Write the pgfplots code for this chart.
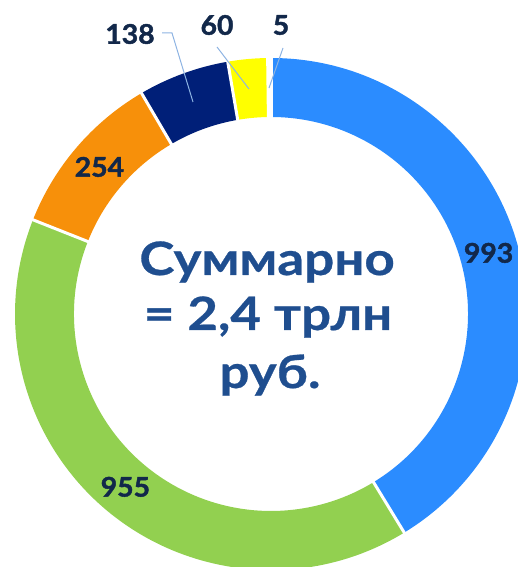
\documentclass[border=0pt]{standalone}
\usepackage{fontspec}
\setmainfont{Lato}
\newfontfamily\ctrfont[FakeStretch=1.15,FakeBold=0.6]{Lato Bold}
\newfontfamily\lblfont[FakeStretch=1.05,FakeBold=1.6]{Lato Bold}
\usepackage{pgfplots}
\usepackage{pgfplotstable}
\pgfplotsset{compat=1.18}
\definecolor{c0}{HTML}{2B8CFF}
\definecolor{c1}{HTML}{92D050}
\definecolor{c2}{HTML}{F7900A}
\definecolor{c3}{HTML}{001F78}
\definecolor{c4}{HTML}{FFFF00}
\definecolor{c5}{HTML}{FFFFFF}
\definecolor{lbl}{HTML}{12284A}
\definecolor{ctr}{HTML}{1F4E8F}
\definecolor{lead}{HTML}{8DB3E2}
\pgfplotstableread{
name value
A 993
B 955
C 254
D 138
E 60
F 5
}\data
\newcommand\aS[1]{\csname aS#1\endcsname}
\newcommand\aE[1]{\csname aE#1\endcsname}
\newcommand\aM[1]{\csname aM#1\endcsname}
\begin{document}
\begin{tikzpicture}
\gdef\total{0}
\pgfplotsforeachungrouped \i in {0,...,5}{%
  \pgfplotstablegetelem{\i}{value}\of\data
  \pgfmathsetmacro\tmp{\total+\pgfplotsretval}%
  \xdef\total{\tmp}%
}
\gdef\cum{0}
\pgfplotsforeachungrouped \i in {0,...,5}{%
  \pgfplotstablegetelem{\i}{value}\of\data
  \pgfmathsetmacro\s{90-360*(\cum/\total)}%
  \pgfmathsetmacro\m{90-360*((\cum+0.5*\pgfplotsretval)/\total)}%
  \pgfmathsetmacro\tmp{\cum+\pgfplotsretval}%
  \xdef\cum{\tmp}%
  \pgfmathsetmacro\e{90-360*(\cum/\total)}%
  \expandafter\xdef\csname aS\i\endcsname{\s}%
  \expandafter\xdef\csname aE\i\endcsname{\e}%
  \expandafter\xdef\csname aM\i\endcsname{\m}%
}
\begin{axis}[
  width=518pt, height=567pt, scale only axis,
  xmin=0, xmax=518, ymin=0, ymax=567,
  hide axis, clip=true,
]
\pgfplotsinvokeforeach{0,...,5}{
  \fill[c#1] (axis cs:{271+256*cos(\aS{#1})},{253+256*sin(\aS{#1})})
    arc[start angle=\aS{#1}, end angle=\aE{#1}, radius=256pt]
    -- (axis cs:{271+197*cos(\aE{#1})},{253+197*sin(\aE{#1})})
    arc[start angle=\aE{#1}, end angle=\aS{#1}, radius=197pt] -- cycle;
}
\pgfplotsinvokeforeach{0,...,5}{
  \draw[white, line width=3pt] (axis cs:{271+190*cos(\aS{#1})},{253+190*sin(\aS{#1})})
    -- (axis cs:{271+262*cos(\aS{#1})},{253+262*sin(\aS{#1})});
}
\pgfplotsinvokeforeach{0,1,2}{
  \node[font=\lblfont\fontsize{27}{30}\selectfont, text=lbl]
    at (axis cs:{271+226*cos(\aM{#1})},{253+226*sin(\aM{#1})}) {\pgfplotstablegetelem{#1}{value}\of\data\pgfplotsretval};
}
% leader lines
\draw[lead, line width=1pt] (axis cs:162,534) -- (axis cs:172,534) -- (axis cs:193,465);
\draw[lead, line width=1pt] (axis cs:217,520) -- (axis cs:249,478);
\draw[lead, line width=1pt] (axis cs:283,519) -- (axis cs:269,479);
\node[font=\lblfont\fontsize{27}{30}\selectfont, text=lbl] at (axis cs:130,533) {138};
\node[font=\lblfont\fontsize{27}{30}\selectfont, text=lbl] at (axis cs:217,542) {60};
\node[font=\lblfont\fontsize{27}{30}\selectfont, text=lbl] at (axis cs:281,542) {5};
% centre text
\node[anchor=base, font=\ctrfont\fontsize{46}{50}\selectfont, text=ctr] at (axis cs:267,292) {Суммарно};
\node[anchor=base, font=\ctrfont\fontsize{46}{50}\selectfont, text=ctr] at (axis cs:268,237) {= 2,4 трлн};
\node[anchor=base, font=\ctrfont\fontsize{46}{50}\selectfont, text=ctr] at (axis cs:270,179) {руб.};
\end{axis}
\pgfresetboundingbox
\useasboundingbox (0,0) rectangle (518pt,567pt);
\end{tikzpicture}
\end{document}
